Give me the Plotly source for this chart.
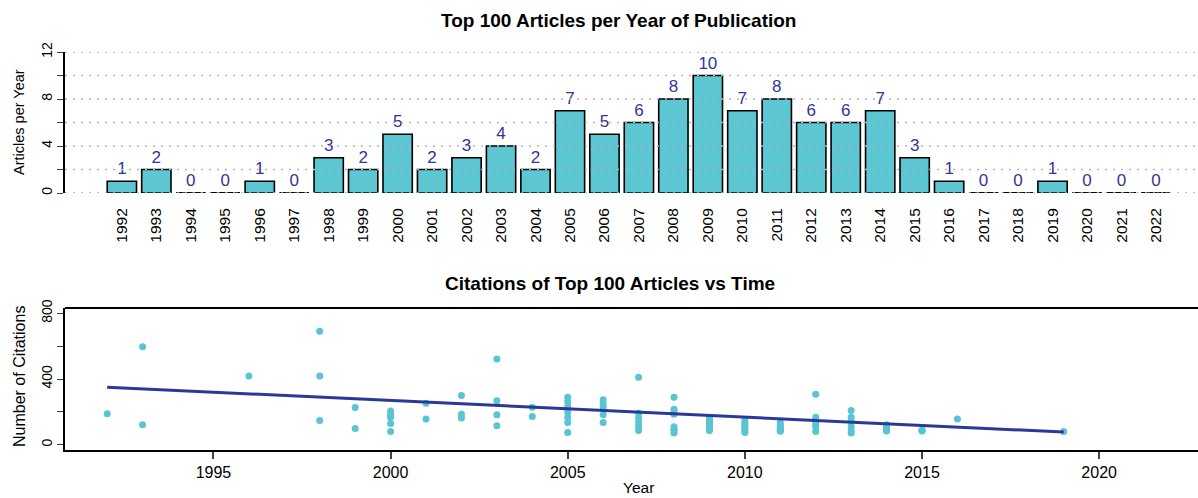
import plotly.graph_objects as go

# ---- data -------------------------------------------------------------
pub_years = list(range(1992, 2023))
articles = [1, 2, 0, 0, 1, 0, 3, 2, 5, 2, 3, 4, 2, 7, 5, 6, 8, 10, 7, 8,
            6, 6, 7, 3, 1, 0, 0, 1, 0, 0, 0]

citations_by_year = {
    1992: [188],
    1993: [596, 121],
    1996: [418],
    1998: [691, 418, 147],
    1999: [226, 99],
    2000: [205, 185, 165, 130, 80],
    2001: [253, 156],
    2002: [299, 186, 162],
    2003: [521, 267, 182, 115],
    2004: [228, 172],
    2005: [289, 263, 232, 198, 168, 135, 75],
    2006: [273, 248, 228, 182, 135],
    2007: [410, 192, 162, 135, 111, 87],
    2008: [289, 216, 200, 185, 110, 95, 85, 72],
    2009: [162, 150, 141, 128, 118, 111, 102, 95, 90, 87],
    2010: [147, 131, 120, 107, 95, 85, 75],
    2011: [135, 125, 111, 102, 95, 90, 87, 82],
    2012: [307, 168, 141, 125, 111, 81],
    2013: [208, 168, 141, 111, 87, 71],
    2014: [121, 112, 105, 98, 92, 87, 84],
    2015: [90, 87, 84],
    2016: [156],
    2019: [81],
}
cite_years = [y for y, vals in citations_by_year.items() for _ in vals]
citations = [v for vals in citations_by_year.values() for v in vals]

# linear trend of citations over time (end points)
trend_years = [1992, 2019]
trend_citations = [350, 77]

# ---- styling ----------------------------------------------------------
W, H = 1198, 498
FONT = "Liberation Sans, Arial, sans-serif"
BAR_FILL = "#5cc6d3"
LABEL_BLUE = "#33339a"
DOT = "#5bc4d4"
FIT = "#2a3899"


def px_x(p):
    return p / W


def px_y(p):
    return 1 - p / H


fig = go.Figure()

# bar chart of articles per year
fig.add_trace(go.Bar(
    x=pub_years, y=articles, width=0.85,
    marker=dict(color=BAR_FILL, line=dict(color="black", width=1.6)),
    text=[str(v) for v in articles], textposition="outside",
    textfont=dict(family=FONT, size=17, color=LABEL_BLUE),
    cliponaxis=False, xaxis="x", yaxis="y", showlegend=False,
))

# zero-height bars are drawn as a flat outline on the baseline
zero_years = [y for y, v in zip(pub_years, articles) if v == 0]
for zy in zero_years:
    fig.add_shape(type="line", xref="x", yref="y",
                  x0=zy - 0.425, x1=zy + 0.425, y0=0, y1=0,
                  line=dict(color="black", width=1.8, dash="6px,3px"), layer="above")

# scatter of citations and linear trend
fig.add_trace(go.Scatter(
    x=cite_years, y=citations, mode="markers",
    marker=dict(color=DOT, size=7),
    xaxis="x2", yaxis="y2", showlegend=False,
))
fig.add_trace(go.Scatter(
    x=trend_years, y=trend_citations, mode="lines",
    line=dict(color=FIT, width=3),
    xaxis="x2", yaxis="y2", showlegend=False,
))

# dotted horizontal guides drawn over the bars
for gy in range(0, 13, 2):
    fig.add_shape(type="line", xref="x domain", yref="y",
                  x0=0, x1=1, y0=gy, y1=gy,
                  line=dict(color="#b4b4b4", width=1.6, dash="2px,6px"), layer="above")

# top border of the lower panel
fig.add_shape(type="line", xref="x2 domain", yref="y2 domain",
              x0=0, x1=1, y0=1, y1=1, line=dict(color="black", width=1.8))

top_dom = [px_y(193), px_y(52)]
bot_dom = [px_y(450), px_y(308)]
x_dom = [px_x(65), 1]

fig.update_layout(
    width=W, height=H,
    margin=dict(l=0, r=0, t=0, b=0),
    plot_bgcolor="white", paper_bgcolor="white",
    font=dict(family=FONT, color="black"),
    xaxis=dict(
        domain=x_dom, anchor="y", range=[1990.35, 2023.22],
        tickmode="array", tickvals=pub_years, ticktext=[str(y) for y in pub_years],
        tickangle=-90, tickfont=dict(size=15.5), ticks="outside", ticklen=8,
        tickcolor="rgba(0,0,0,0)", showgrid=False, zeroline=False,
        showline=False, automargin=False,
    ),
    yaxis=dict(
        domain=top_dom, anchor="x", range=[0, 12],
        tickmode="array", tickvals=list(range(0, 13, 2)),
        ticktext=["0", "", "4", "", "8", "", "12"],
        tickangle=-90, tickfont=dict(size=14), ticks="outside", ticklen=6,
        tickwidth=1.4, showline=True, linecolor="black", linewidth=1.8,
        showgrid=False, zeroline=False, automargin=False,
    ),
    xaxis2=dict(
        domain=x_dom, anchor="y2", range=[1990.81, 2022.79],
        tickmode="array", tickvals=[1995, 2000, 2005, 2010, 2015, 2020],
        tickfont=dict(size=16), ticks="outside", ticklen=7, tickwidth=1.6,
        showline=True, linecolor="black", linewidth=1.8,
        showgrid=False, zeroline=False, automargin=False,
    ),
    yaxis2=dict(
        domain=bot_dom, anchor="x2", range=[-32, 832],
        tickmode="array", tickvals=[0, 200, 400, 600, 800],
        ticktext=["0", "", "400", "", "800"],
        tickangle=-90, tickfont=dict(size=14), ticks="outside", ticklen=6,
        tickwidth=1.4, showline=True, linecolor="black", linewidth=1.8,
        showgrid=False, zeroline=False, automargin=False,
    ),
    annotations=[
        dict(text="<b>Top 100 Articles per Year of Publication</b>",
             x=px_x(618), y=px_y(20), xref="paper", yref="paper",
             showarrow=False, font=dict(size=19), xanchor="center", yanchor="middle"),
        dict(text="<b>Citations of Top 100 Articles vs Time</b>",
             x=px_x(610), y=px_y(283), xref="paper", yref="paper",
             showarrow=False, font=dict(size=19), xanchor="center", yanchor="middle"),
        dict(text="Articles per Year", textangle=-90,
             x=px_x(19), y=px_y(122), xref="paper", yref="paper",
             showarrow=False, font=dict(size=14.5), xanchor="center", yanchor="middle"),
        dict(text="Number of Citations", textangle=-90,
             x=px_x(19), y=px_y(377), xref="paper", yref="paper",
             showarrow=False, font=dict(size=16), xanchor="center", yanchor="middle"),
        dict(text="Year", x=px_x(638), y=px_y(487), xref="paper", yref="paper",
             showarrow=False, font=dict(size=15.5), xanchor="center", yanchor="middle"),
    ],
)

fig.write_html("out.html")
